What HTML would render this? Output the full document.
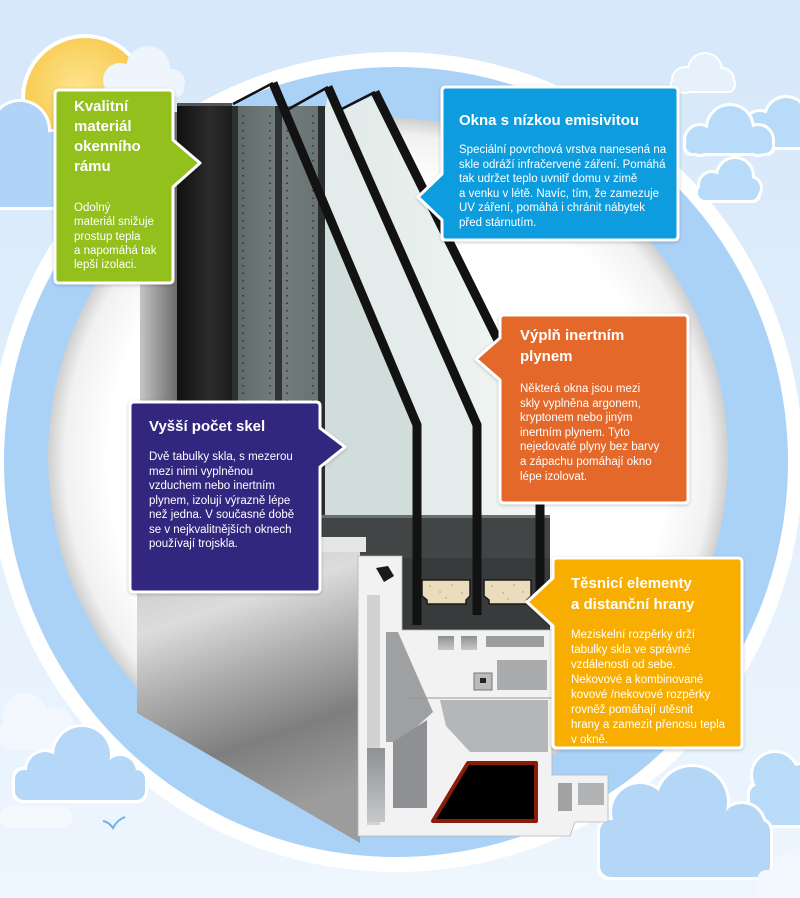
<!DOCTYPE html>
<html><head><meta charset="utf-8">
<style>
html,body{margin:0;padding:0;}
body{width:800px;height:898px;position:relative;overflow:hidden;font-family:"Liberation Sans","DejaVu Sans",sans-serif;background:#e4f0fc;}
svg{position:absolute;left:0;top:0;}
.t{position:absolute;color:#fff;font-weight:bold;font-size:15px;line-height:20px;white-space:nowrap;}
.b{position:absolute;color:#fff;font-size:11.5px;line-height:14.5px;white-space:nowrap;}
</style></head><body>
<svg width="800" height="898" viewBox="0 0 800 898">
<defs>
<linearGradient id="sky" x1="0" y1="0" x2="0" y2="1"><stop offset="0" stop-color="#d5e7fa"/><stop offset="0.5" stop-color="#e2effc"/><stop offset="1" stop-color="#eef6fe"/></linearGradient>
<radialGradient id="inner" cx="0.5" cy="0.5" r="0.5"><stop offset="0.82" stop-color="#ffffff"/><stop offset="0.95" stop-color="#f1f1f1"/><stop offset="1" stop-color="#cfcfcf"/></radialGradient>
<radialGradient id="sun" cx="0.45" cy="0.4" r="0.6"><stop offset="0" stop-color="#fde48a"/><stop offset="1" stop-color="#f6c444"/></radialGradient>
<linearGradient id="silver" x1="0" y1="0" x2="0.25" y2="1"><stop offset="0" stop-color="#c2c2c2"/><stop offset="0.3" stop-color="#dcdcdc"/><stop offset="0.5" stop-color="#b0b0b0"/><stop offset="0.75" stop-color="#7e7e7e"/><stop offset="1" stop-color="#9c9c9c"/></linearGradient>
<linearGradient id="leftface" x1="0" y1="0" x2="1" y2="0"><stop offset="0" stop-color="#c4c4c4"/><stop offset="1" stop-color="#6c6c6c"/></linearGradient>
<linearGradient id="darkp" x1="0" y1="0" x2="1" y2="0"><stop offset="0" stop-color="#101010"/><stop offset="0.6" stop-color="#2c2c2c"/><stop offset="1" stop-color="#1c1c1c"/></linearGradient>
<linearGradient id="grayp" x1="0" y1="0" x2="1" y2="0"><stop offset="0" stop-color="#5f6868"/><stop offset="0.5" stop-color="#747d7d"/><stop offset="1" stop-color="#687171"/></linearGradient>
<linearGradient id="glass" x1="0" y1="0" x2="1" y2="0"><stop offset="0" stop-color="#dfe9e7"/><stop offset="1" stop-color="#f3f7f6"/></linearGradient>
<linearGradient id="ch" x1="0" y1="0" x2="0" y2="1"><stop offset="0" stop-color="#8e9091"/><stop offset="1" stop-color="#c6c8c9"/></linearGradient>
<filter id="sh" x="-10%" y="-10%" width="120%" height="120%"><feDropShadow dx="0" dy="1" stdDeviation="1.5" flood-color="#000" flood-opacity="0.22"/></filter>
</defs>

<rect width="800" height="898" fill="url(#sky)"/>

<!-- sun and top-left clouds -->
<circle cx="85" cy="98" r="64" fill="#fff"/>
<circle cx="85" cy="98" r="60" fill="url(#sun)"/>
<g fill="#eef5fd">
<circle cx="120" cy="80" r="17"/><circle cx="148" cy="68" r="22"/><circle cx="172" cy="82" r="13"/><rect x="106" y="80" width="78" height="17" rx="8"/>
</g>
<g fill="#fff">
<circle cx="20" cy="130" r="31"/><circle cx="52" cy="152" r="23"/><rect x="-10" y="140" width="73" height="70"/>
</g>
<g fill="#b0d4f7">
<circle cx="20" cy="130" r="28"/><circle cx="52" cy="152" r="20"/><rect x="-10" y="142" width="70" height="65"/>
</g>

<!-- ring -->
<ellipse cx="396" cy="462" rx="407" ry="410" fill="#fff"/>
<ellipse cx="396" cy="462" rx="392" ry="395" fill="#aad2f7"/>
<circle cx="388" cy="458" r="340" fill="url(#inner)"/>

<!-- top-right clouds -->
<g fill="#fff"><circle cx="685" cy="80" r="14"/><circle cx="705" cy="70" r="18"/><circle cx="722" cy="80" r="13"/><rect x="670" y="76" width="66" height="17" rx="8"/></g>
<g fill="#e6f1fc"><circle cx="685" cy="80" r="12"/><circle cx="705" cy="70" r="16"/><circle cx="722" cy="80" r="11"/><rect x="672" y="78" width="62" height="13" rx="6"/></g>

<g fill="#fff"><circle cx="760" cy="128" r="19"/><circle cx="786" cy="118" r="23"/><rect x="741" y="127" width="66" height="23" rx="6"/></g>
<g fill="#b8dbf9"><circle cx="760" cy="128" r="16"/><circle cx="786" cy="118" r="20"/><rect x="744" y="130" width="60" height="17" rx="5"/></g>

<g fill="#fff"><circle cx="700" cy="140" r="17"/><circle cx="730" cy="128" r="25"/><circle cx="758" cy="140" r="17"/><rect x="683" y="136" width="92" height="20" rx="8"/></g>
<g fill="#b8dbf9"><circle cx="700" cy="140" r="14"/><circle cx="730" cy="128" r="22"/><circle cx="758" cy="140" r="14"/><rect x="686" y="138" width="86" height="15" rx="7"/></g>

<g fill="#fff"><circle cx="712" cy="185" r="15"/><circle cx="735" cy="176" r="20"/><circle cx="750" cy="188" r="13"/><rect x="695" y="183" width="66" height="20" rx="8"/></g>
<g fill="#b8dbf9"><circle cx="712" cy="185" r="12"/><circle cx="735" cy="176" r="17"/><circle cx="750" cy="188" r="10"/><rect x="698" y="185" width="60" height="15" rx="7"/></g>

<!-- bottom-left clouds -->
<g fill="#f3f8fe"><circle cx="25" cy="715" r="22"/><circle cx="55" cy="725" r="18"/><rect x="0" y="720" width="75" height="30" rx="10"/></g>
<g fill="#fff"><circle cx="45" cy="770" r="21"/><circle cx="82" cy="755" r="31"/><circle cx="120" cy="772" r="19"/><rect x="12" y="767" width="136" height="36" rx="10"/></g>
<g fill="#b6d8f8"><circle cx="45" cy="770" r="18"/><circle cx="82" cy="755" r="28"/><circle cx="120" cy="772" r="16"/><rect x="15" y="770" width="130" height="30" rx="9"/></g>
<rect x="0" y="806" width="72" height="22" rx="10" fill="#f4f9fe"/>
<path d="M103,821 Q109,822 113,828 Q117,820 125,817" stroke="#6fb0e6" stroke-width="2" fill="none"/>

<!-- bottom-right clouds -->
<g fill="#fff"><circle cx="775" cy="775" r="25"/><circle cx="802" cy="790" r="28"/><rect x="747" y="782" width="66" height="46" rx="10"/></g>
<g fill="#b8dbf9"><circle cx="775" cy="775" r="22"/><circle cx="802" cy="790" r="25"/><rect x="750" y="785" width="60" height="40" rx="9"/></g>
<g fill="#fff"><circle cx="640" cy="812" r="31"/><circle cx="692" cy="802" r="38"/><circle cx="742" cy="826" r="25"/><rect x="597" y="818" width="176" height="62" rx="12"/></g>
<g fill="#b5d7f7"><circle cx="640" cy="812" r="28"/><circle cx="692" cy="802" r="35"/><circle cx="742" cy="826" r="22"/><rect x="600" y="820" width="170" height="57" rx="11"/></g>
<g fill="#f2f8fe"><circle cx="790" cy="872" r="18"/><rect x="758" y="870" width="50" height="30" rx="8"/></g>

<!-- window: left frame -->
<rect x="140" y="112" width="37" height="450" fill="url(#leftface)"/>
<rect x="177" y="103" width="55" height="445" fill="url(#darkp)"/>
<rect x="177" y="103" width="55" height="3" fill="#555"/>
<!-- gray spacer panels -->
<rect x="232" y="106" width="93" height="414" fill="url(#grayp)"/>
<rect x="232" y="106" width="6" height="414" fill="#2b3030"/>
<rect x="275" y="106" width="7" height="414" fill="#2d3333"/>
<rect x="318" y="106" width="7" height="414" fill="#2a2e2e"/>
<g stroke="#2c3131" stroke-width="1.5" stroke-dasharray="1.5 6">
<line x1="243" y1="115" x2="243" y2="515"/><line x1="270" y1="115" x2="270" y2="515"/>
<line x1="287" y1="115" x2="287" y2="515"/><line x1="313" y1="115" x2="313" y2="515"/>
</g>
<!-- glass -->
<polygon points="325,112 336,112 375,95 540,425 545,520 325,520" fill="url(#glass)"/>
<polygon points="325,206 417,425 417,520 325,520" fill="#d1dddb"/>
<polygon points="328,95 477,425 477,520 417,520 417,425 325,206 325,110" fill="#e3ecea"/>
<!-- sash dark -->
<rect x="320" y="515" width="230" height="45" fill="#414545"/>
<rect x="320" y="515" width="230" height="3" fill="#6a6e6e"/>
<rect x="398" y="558" width="152" height="72" fill="#383b3b"/>
<!-- silver face -->
<polygon points="137,540 360,540 360,843 137,713" fill="url(#silver)"/>
<rect x="318" y="537" width="48" height="15" fill="#e6e6e6"/>
<!-- pane lines -->
<g stroke="#121212" fill="none" stroke-linejoin="miter">
<path d="M273,83 L417,425 L417,625" stroke-width="9"/>
<path d="M328,87 L477,425 L477,615" stroke-width="9"/>
<path d="M375,92 L540,425 L540,600" stroke-width="9"/>
<path d="M233,104 L273,83 M287,110 L328,87 M336,112 L375,92" stroke-width="2.5"/>
</g>
<!-- spacers -->
<g stroke="#1a1a1a" stroke-width="1.5">
<path d="M422,580 H470 V596 L466,600 V604 H427 V600 L422,596 Z" fill="#eadcbd"/>
<path d="M484,580 H531 V596 L527,600 V604 H489 V600 L484,596 Z" fill="#eadcbd"/>
</g>
<g fill="#c9b48a">
<circle cx="430" cy="586" r="1"/><circle cx="440" cy="592" r="1"/><circle cx="452" cy="585" r="1"/><circle cx="462" cy="593" r="1"/><circle cx="446" cy="598" r="1"/>
<circle cx="492" cy="586" r="1"/><circle cx="503" cy="593" r="1"/><circle cx="514" cy="585" r="1"/><circle cx="523" cy="592" r="1"/><circle cx="508" cy="599" r="1"/>
</g>
<!-- profile -->
<path d="M358,556 L402,556 L402,630 L552,630 L552,775 L608,775 L608,822 L575,822 L570,836 L358,836 Z" fill="#f2f2f2" stroke="#b5b5b5" stroke-width="0.8"/>
<rect x="367" y="595" width="13" height="230" fill="#d2d2d2"/>
<rect x="367" y="748" width="18" height="74" fill="url(#ch)"/>
<polygon points="386,632 398,632 433,712 400,742 386,742" fill="#9ea0a1"/>
<polygon points="440,700 548,700 548,752 470,752 446,726" fill="#b4b6b7"/>
<polygon points="393,742 427,720 427,808 393,808" fill="#8e9094"/>
<rect x="438" y="636" width="16" height="14" fill="url(#ch)"/>
<rect x="461" y="636" width="16" height="14" fill="url(#ch)"/>
<rect x="486" y="636" width="58" height="11" fill="#9a9c9d"/>
<rect x="497" y="660" width="50" height="30" fill="#a9abac"/>
<rect x="474" y="673" width="18" height="17" fill="#b9bbbc" stroke="#777" stroke-width="1"/>
<rect x="480" y="678" width="6" height="5" fill="#222"/>
<line x1="408" y1="698" x2="552" y2="698" stroke="#999" stroke-width="1"/>
<path d="M468,763 L536,763 L536,821 L433,821 Z" fill="#000" stroke="#8a1c0b" stroke-width="4" stroke-linejoin="round"/>
<rect x="558" y="783" width="14" height="28" fill="#a0a2a3"/>
<rect x="578" y="783" width="26" height="22" fill="#b0b2b3"/>
<polygon points="376,568 388,566 394,576 384,582" fill="#1a1a1a"/>

<!-- callout boxes -->
<g stroke="#fff" stroke-width="3" stroke-linejoin="round" filter="url(#sh)">
<path d="M59,90 H169 Q173,90 173,94 V140 L200,163 L173,187 V279 Q173,283 169,283 H59 Q55,283 55,279 V94 Q55,90 59,90 Z" fill="#93c01f"/>
<path d="M446,87 H674 Q678,87 678,91 V236 Q678,240 674,240 H446 Q442,240 442,236 V220 L418,197 L442,174 V91 Q442,87 446,87 Z" fill="#0b9ddf"/>
<path d="M504,315 H684 Q688,315 688,319 V499 Q688,503 684,503 H504 Q500,503 500,499 V380 L476,359 L500,338 V319 Q500,315 504,315 Z" fill="#e4672b"/>
<path d="M134,402 H316 Q320,402 320,406 V428 L345,447 L320,467 V588 Q320,592 316,592 H134 Q130,592 130,588 V406 Q130,402 134,402 Z" fill="#33287f"/>
<path d="M557,558 H738 Q742,558 742,562 V744 Q742,748 738,748 H557 Q553,748 553,744 V626 L527,602 L553,578 V562 Q553,558 557,558 Z" fill="#f7ae00"/>
</g>
</svg>

<div class="t" style="left:74px;top:97px;">Kvalitní<br>materiál<br>okenního<br>rámu</div>
<div class="b" style="left:74px;top:201px;line-height:14.3px;">Odolný<br>materiál snižuje<br>prostup tepla<br>a napomáhá tak<br>lepší izolaci.</div>

<div class="t" style="left:459px;top:111px;">Okna s nízkou emisivitou</div>
<div class="b" style="left:459px;top:143px;line-height:14.6px;">Speciální povrchová vrstva nanesená na<br>skle odráží infračervené záření. Pomáhá<br>tak udržet teplo uvnitř domu v zimě<br>a venku v létě. Navíc, tím, že zamezuje<br>UV záření, pomáhá i chránit nábytek<br>před stárnutím.</div>

<div class="t" style="left:520px;top:325px;line-height:21px;">Výplň inertním<br>plynem</div>
<div class="b" style="left:520px;top:382px;line-height:14.6px;">Některá okna jsou mezi<br>skly vyplněna argonem,<br>kryptonem nebo jiným<br>inertním plynem. Tyto<br>nejedovaté plyny bez barvy<br>a zápachu pomáhají okno<br>lépe izolovat.</div>

<div class="t" style="left:149px;top:417px;">Vyšší počet skel</div>
<div class="b" style="left:149px;top:450px;line-height:14.5px;">Dvě tabulky skla, s mezerou<br>mezi nimi vyplněnou<br>vzduchem nebo inertním<br>plynem, izolují výrazně lépe<br>než jedna. V současné době<br>se v nejkvalitnějších oknech<br>používají trojskla.</div>

<div class="t" style="left:571px;top:573px;line-height:21px;">Těsnicí elementy<br>a distanční hrany</div>
<div class="b" style="left:571px;top:628px;line-height:15px;">Meziskelní rozpěrky drží<br>tabulky skla ve správné<br>vzdálenosti od sebe.<br>Nekovové a kombinované<br>kovové /nekovové rozpěrky<br>rovněž pomáhají utěsnit<br>hrany a zamezit přenosu tepla<br>v okně.</div>
</body></html>
